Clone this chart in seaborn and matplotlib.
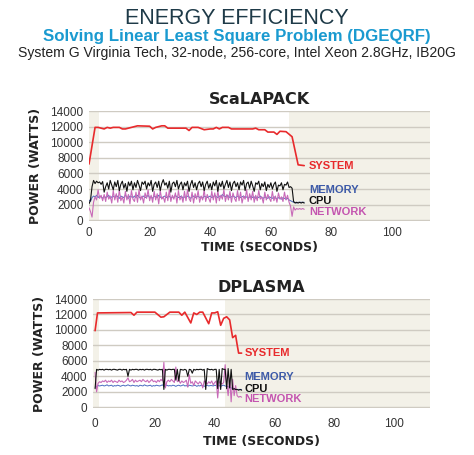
import numpy as np
import matplotlib
matplotlib.use("Agg")
import matplotlib.pyplot as plt
import seaborn as sns

# --- ScaLAPACK data (half-second samples) ---
sca_t = np.arange(0, 71.5, 0.5)
sca_cpu = [2100, 2600, 4300, 5100, 4700, 5000, 4800, 4900, 4600, 4950,
           3600, 4300, 4800, 4000, 5100, 4500, 3900, 4900, 4300, 5100,
           3800, 4600, 5000, 4100, 4700, 3700, 4900, 4400, 5000, 3900,
           4800, 4200, 5100, 4500, 3800, 4900, 4600, 5000, 4000, 4800,
           4400, 5100, 3700, 4600, 4900, 4200, 5000, 3800, 4700, 5200,
           4500, 4800, 4100, 5000, 3600, 4700, 4900, 4300, 5100, 4000,
           4600, 4900, 3900, 4800, 4400, 5000, 3700, 4600, 5100, 4200,
           4800, 3900, 4700, 5000, 4300, 4900, 3800, 4600, 5000, 4100,
           4700, 3900, 4900, 4400, 5100, 3700, 4800, 4300, 5000, 4000,
           4600, 5100, 4200, 4900, 3800, 4700, 5000, 4300, 4800, 3900,
           4900, 4500, 5100, 3800, 4700, 4900, 4100, 5000, 4400, 3700,
           4800, 4600, 5000, 3900, 4700, 4300, 4900, 3800, 4600, 4200,
           4800, 4000, 4600, 4900, 3700, 4500, 4400, 4800, 3900, 4600,
           4500, 4900, 4200, 4300, 4100, 2400, 2200, 2300, 2200, 2300,
           2200, 2300, 2200]
sca_net = [1600, 1100, 400, 2300, 3000, 2600, 3900, 2800, 3200, 2500,
           3300, 2400, 3600, 2700, 3100, 2200, 3800, 2600, 3400, 2300,
           3900, 2500, 3000, 2200, 3700, 2600, 3300, 2100, 3800, 2700,
           2400, 3600, 2300, 3900, 2600, 3100, 2200, 3500, 2800, 3900,
           2500, 3200, 2300, 3700, 2600, 3400, 2100, 3800, 2700, 3000,
           2300, 3600, 2500, 3900, 2400, 3200, 2700, 3500, 2200, 3800,
           2600, 3100, 2300, 3700, 2500, 3900, 2800, 2400, 3600, 2200,
           3400, 2700, 3800, 2300, 3100, 2600, 3900, 2400, 3300, 2800,
           2300, 3700, 2600, 3500, 2200, 3800, 2500, 3200, 2700, 3900,
           2400, 3300, 2600, 3700, 2300, 3500, 2800, 2400, 3800, 2500,
           3600, 2200, 3100, 2700, 3900, 2400, 3400, 2600, 3700, 2300,
           3200, 2500, 3800, 2700, 3000, 2200, 3600, 2600, 3300, 2800,
           2400, 3700, 2500, 3100, 2300, 3500, 2700, 3000, 2400, 3600,
           2600, 3200, 2300, 1800, 500, 1700, 1300, 1500, 1400, 1500,
           1400, 1500, 1400]
sca_mem = [2600, 2400, 2900, 3100, 3000, 3200, 2900, 3100, 3000, 2800,
           3100, 2900, 3000, 3200, 2800, 3000, 3100, 2900, 3200, 3000,
           2800, 3100, 3000, 2900, 3200, 3000, 2800, 3100, 3000, 2900,
           3100, 2900, 3200, 3000, 2800, 3000, 3100, 2900, 3000, 3200,
           2900, 3000, 2800, 3100, 3000, 2900, 3200, 3000, 2800, 3000,
           3100, 2900, 3000, 3100, 2800, 3000, 2900, 3200, 3000, 2900,
           3000, 3100, 2800, 3000, 2900, 3100, 3000, 2800, 3000, 3100,
           2900, 3000, 3100, 2900, 3000, 2800, 3100, 3000, 2900, 3000,
           3100, 2900, 3000, 3200, 3000, 2900, 3100, 3000, 3300, 3100,
           3000, 3200, 3100, 2900, 3000, 3100, 3000, 2900, 3100, 3000,
           2900, 3000, 3100, 2900, 3000, 2800, 3000, 3100, 2900, 3000,
           2800, 3000, 2900, 3100, 2900, 2800, 3000, 2900, 2800, 3000,
           2900, 2800, 3000, 2900, 2700, 2900, 2800, 2700, 2900, 2800,
           2700, 2800, 2600, 2500, 2400, 2300, 2300, 2200, 2300, 2300,
           2300, 2300, 2300]
sca_sys_t = [0, 2, 3, 4, 5, 6, 7, 8, 10, 11, 12, 13, 14, 16, 20, 21, 22, 24, 25,
             26, 32, 33, 34, 36, 38, 40, 41, 42, 43, 44, 46, 47, 54, 55, 56, 58,
             59, 61, 62, 63, 65, 67, 69, 71]
sca_sys = [7200, 11900, 11900, 11800, 11700, 11900, 11800, 11900, 11900, 11700,
           11700, 11800, 11900, 12100, 12050, 11700, 11900, 12100, 12100, 11800,
           11800, 11500, 11900, 11900, 11600, 11700, 11700, 11900, 11700, 11900,
           11900, 11700, 11700, 11800, 11600, 11600, 11300, 11300, 11000, 11400,
           11350, 10700, 7100, 7000]

# --- DPLASMA data (half-second samples) ---
dpl_t = np.arange(0, 49.5, 0.5)
dpl_cpu = [2400, 4900, 4800, 4900, 4850, 4900, 4800, 4900, 4900, 4850,
           4900, 4800, 4900, 4900, 4850, 4800, 4900, 4900, 4800, 4900,
           4850, 4900, 4000, 4900, 4800, 4900, 4850, 4900, 4900, 4800,
           4900, 4850, 4900, 4800, 4900, 4900, 4850, 4900, 4800, 4900,
           4900, 4850, 4800, 4900, 4850, 4900, 2300, 4900, 4800, 4900,
           4900, 4850, 4900, 4900, 3500, 4900, 3400, 4900, 4850, 4800,
           4900, 4800, 4000, 4900, 4850, 4400, 4900, 4800, 4900, 4850,
           4900, 4900, 4800, 4900, 2300, 5000, 4900, 4850, 4900, 4800,
           4900, 4900, 2400, 4900, 2300, 5000, 4900, 4900, 2400, 5000,
           2500, 4900, 2300, 2400, 2300, 2300, 2200, 2300, 2200]
dpl_net = [4500, 2000, 3100, 3300, 3200, 3400, 3300, 3500, 3200, 3400,
           3300, 3500, 3200, 3400, 3300, 3200, 3500, 3300, 3400, 3200,
           3300, 3500, 3800, 3300, 3400, 3600, 3200, 3500, 3300, 3400,
           3500, 3300, 3600, 3400, 3300, 3500, 3200, 3400, 3600, 3300,
           3400, 3200, 3500, 3300, 3600, 3400, 5800, 2500, 3300, 3500,
           3300, 3600, 3400, 3200, 5200, 3300, 3500, 3100, 3400, 3200,
           3300, 3500, 2600, 4200, 3100, 3300, 2800, 3400, 3200, 3000,
           3300, 3100, 2500, 3400, 3200, 3000, 3300, 3100, 3400, 2900,
           3200, 3400, 1200, 3300, 3100, 3000, 3200, 5500, 3000, 1500,
           3800, 700, 3600, 1500, 2800, 1500, 1300, 1400, 1300]
dpl_mem = [2600, 2700, 2800, 2750, 2800, 2850, 2750, 2800, 2900, 2750,
           2800, 2850, 2700, 2800, 2750, 2850, 2800, 2700, 2800, 2850,
           2750, 2800, 2900, 2800, 2750, 2850, 2800, 2750, 2800, 2700,
           2850, 2800, 2750, 2900, 2800, 2750, 2800, 2850, 2700, 2800,
           2750, 2850, 2800, 2750, 2800, 2900, 2700, 2800, 2850, 2750,
           2800, 2750, 2850, 2800, 2700, 2800, 2850, 2750, 2800, 2900,
           2750, 2800, 2700, 2850, 2800, 2750, 2800, 2850, 2700, 2800,
           2750, 2850, 2800, 2700, 2800, 2850, 2750, 2800, 2800, 2750,
           2850, 2800, 2750, 2800, 2700, 2800, 2850, 2750, 2700, 2650,
           2600, 2500, 2400, 2400, 2300, 2300, 2300, 2300, 2300]
dpl_sys_t = [0, 0.8, 12, 13, 14, 20, 22, 23, 25, 28, 29, 30, 32, 33, 34, 35,
             36, 38, 39, 40, 41, 42, 43, 44, 45, 46, 47, 47.5, 48, 49]
dpl_sys = [9900, 12200, 12250, 11900, 12300, 12300, 11650, 11700, 12300, 12300,
           11900, 12300, 10900, 12200, 12000, 12300, 12300, 10800, 12200, 12200,
           12350, 10600, 11500, 11700, 11300, 9000, 9300, 8100, 7000, 7000]

series_labels = ["SYSTEM", "MEMORY", "CPU", "NETWORK"]
label_y = [7000, 3900, 2400, 1000]

RED = "#e82a2c"
BLUE = "#4c6cc0"
PINK = "#c86ab8"
BLACK = "#111111"
SHADE = "#f3f1e8"
GRID = "#cfcbc2"
label_colors = [RED, "#3d5aa8", BLACK, "#c455b0"]

sns.set_style("white")
plt.rcParams["font.family"] = ["Liberation Sans", "DejaVu Sans"]

fig = plt.figure(figsize=(4.74, 4.55), dpi=100)

fig.text(0.5, 1 - 19 / 455, "ENERGY EFFICIENCY", ha="center", va="center",
         fontsize=15.5, color="#1e3a48")
fig.text(0.5, 1 - 37 / 455, "Solving Linear Least Square Problem (DGEQRF)",
         ha="center", va="center", fontsize=12.2, color="#1a9ad0",
         fontweight="bold")
fig.text(0.5, 1 - 53 / 455,
         "System G Virginia Tech, 32-node, 256-core, Intel Xeon 2.8GHz, IB20G",
         ha="center", va="center", fontsize=10.1, color="#222222")


def draw_panel(ax, title, t, cpu, net, mem, sys_t, sys_w, xlim, shade_l, shade_r,
               lab_x, tpad, xpad):
    ax.axvspan(xlim[0], shade_l, color=SHADE, lw=0, zorder=0)
    ax.axvspan(shade_r, xlim[1], color=SHADE, lw=0, zorder=0)
    ax.yaxis.grid(True, color=GRID, lw=1, zorder=1)
    ax.set_axisbelow(True)
    sns.lineplot(x=t, y=mem, color=BLUE, lw=0.7, ax=ax, zorder=3)
    sns.lineplot(x=t, y=net, color=PINK, lw=0.8, ax=ax, zorder=4)
    sns.lineplot(x=t, y=cpu, color=BLACK, lw=0.8, ax=ax, zorder=5)
    sns.lineplot(x=sys_t, y=sys_w, color=RED, lw=1.2, ax=ax, zorder=6)
    for name, y, c in zip(series_labels, label_y, label_colors):
        ax.text(lab_x, y, name, color=c, fontsize=8, fontweight="bold",
                va="center", ha="left")
    ax.set_xlim(*xlim)
    ax.set_ylim(-100, 14000)
    ax.set_yticks(range(0, 14001, 2000))
    ax.set_xticks(range(0, 101, 20))
    ax.tick_params(axis="both", length=0, labelsize=8.5, colors="#333333", pad=4)
    ax.tick_params(axis="x", pad=tpad)
    for s in ax.spines.values():
        s.set_visible(False)
    ax.set_title(title, fontsize=11.5, fontweight="bold", family="DejaVu Sans",
                 color="#222222", pad=5)
    ax.set_xlabel("TIME (SECONDS)", fontsize=9, fontweight="bold",
                  family="DejaVu Sans", color="#222222", labelpad=xpad)
    ax.set_ylabel("POWER (WATTS)", fontsize=9, fontweight="bold",
                  family="DejaVu Sans", color="#222222", labelpad=6)


ax1 = fig.add_axes([89 / 474, 1 - 221 / 455, 341 / 474, 110 / 455])
draw_panel(ax1, "ScaLAPACK", sca_t, sca_cpu, sca_net, sca_mem, sca_sys_t, sca_sys,
           (0, 112.5), 3.3, 66, 72.5, 4, 2)

ax2 = fig.add_axes([93 / 474, 1 - 408 / 455, 337 / 474, 109 / 455])
draw_panel(ax2, "DPLASMA", dpl_t, dpl_cpu, dpl_net, dpl_mem, dpl_sys_t, dpl_sys,
           (-0.7, 112), 1.3, 43.5, 50, 7, 4)

fig.savefig("out.png", dpi=100)
